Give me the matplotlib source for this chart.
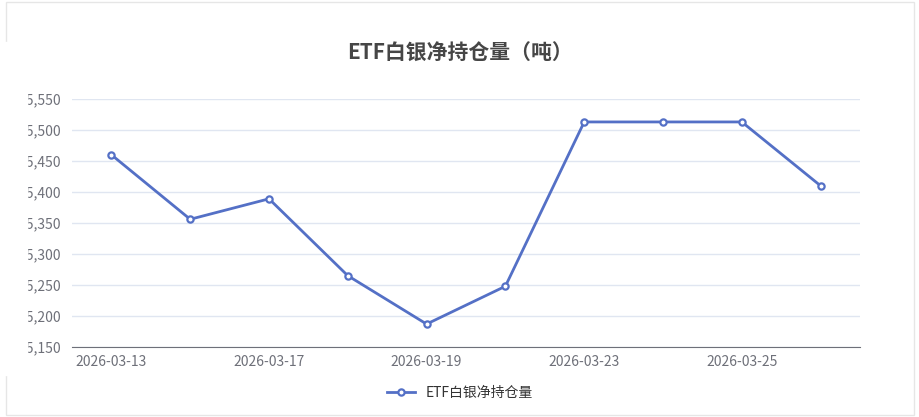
import matplotlib
matplotlib.use("Agg")
import matplotlib.pyplot as plt
from matplotlib.ticker import FuncFormatter
from matplotlib.patches import Rectangle

plt.rcParams['font.family'] = ['Noto Sans CJK SC', 'DejaVu Sans']

dates = ["2026-03-13", "2026-03-16", "2026-03-17", "2026-03-18", "2026-03-19",
         "2026-03-20", "2026-03-23", "2026-03-24", "2026-03-25", "2026-03-26"]
values = [15460, 15356, 15389, 15265, 15187, 15248, 15513, 15513, 15513, 15410]
yticks = [15150, 15200, 15250, 15300, 15350, 15400, 15450, 15500, 15550]

fig = plt.figure(figsize=(9.2, 4.17), dpi=100)
fig.patches.append(Rectangle((0.006, 0.005), 0.988, 0.99, transform=fig.transFigure,
                             fill=False, edgecolor='#e6e6e6', lw=1))
ax = fig.add_axes([72/920, 1-347/417, (860-72)/920, (347-99)/417])
x = list(range(len(dates)))
ax.plot(x, values, color='#5470c6', lw=2, marker='o', markersize=4.5,
        markerfacecolor='white', markeredgewidth=1.6, label='ETF白银净持仓量')
ax.set_xlim(-0.5, len(dates) - 0.5)
ax.set_ylim(15150, 15550)
ax.set_yticks(yticks)
ax.yaxis.set_major_formatter(FuncFormatter(lambda v, p: f"{int(v):,}"))
ax.set_xticks(x[::2])
ax.set_xticklabels(dates[::2])
ax.grid(axis='y', color='#e0e6f1', lw=1)
ax.set_axisbelow(True)
for s in ['top', 'right', 'left']:
    ax.spines[s].set_visible(False)
ax.spines['bottom'].set_color('#6e7079')
ax.tick_params(axis='y', length=0, labelsize=10, labelcolor='#6e7079', pad=8)
ax.tick_params(axis='x', length=0, labelsize=10, labelcolor='#6e7079', pad=6)
fig.text(0.5, 1-53/417, 'ETF白银净持仓量（吨）', ha='center', va='center',
         fontsize=15, fontweight='bold', color='#464646')
fig.legend(loc='center', bbox_to_anchor=(0.5, 1-393/417), frameon=False,
           fontsize=10, labelcolor='#333333', handlelength=2)
# clip the left edge like the reference container
fig.patches.append(Rectangle((0, 0.1), 27/920, 0.8, transform=fig.transFigure,
                             color='white', zorder=10))
fig.savefig('out.png', dpi=100)
